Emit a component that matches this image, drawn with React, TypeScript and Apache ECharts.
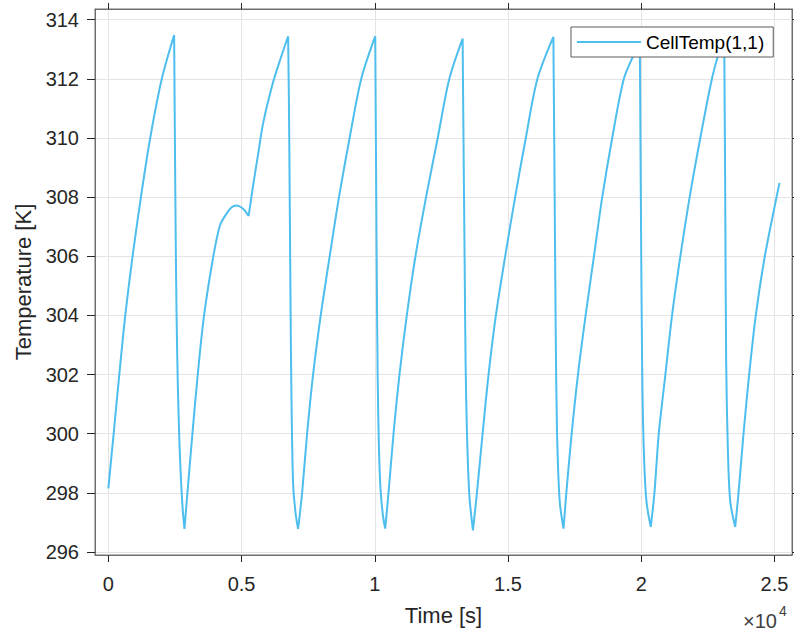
import React, { useEffect, useRef } from "react";
import * as echarts from "echarts";

// Time [s] and cell temperature [K]
const timeS: number[] = [
  0, 200, 412, 636, 911, 1223, 1572, 2008, 2470,
  2500, 2530, 2565, 2610, 2665, 2735, 2800, 2857,
  2969, 3156, 3356, 3593, 3942, 4192, 4442, 4629, 4816, 5065, 5265,
  5439, 5626, 5813, 6188, 6500, 6749,
  6786, 6836, 6874, 6936, 7030, 7123,
  7273, 7460, 7685, 7972, 8308, 8658, 9057, 9494, 10018,
  10055, 10092, 10130, 10205, 10304, 10392,
  10516, 10704, 10928, 11203, 11527, 11926, 12363, 12799, 13298,
  13330, 13373, 13410, 13460, 13548, 13685,
  13835, 14047, 14271, 14546, 14895, 15269, 15669, 16105, 16704,
  16741, 16791, 16841, 16941, 17085,
  17190, 17390, 17627, 17914, 18226, 18538, 18912, 19349, 19760, 19948,
  19985, 20035, 20097, 20197, 20359,
  20497, 20659, 20908, 21158, 21470, 21819, 22218, 22655, 22904, 23116,
  23153, 23190, 23253, 23341, 23528,
  23653, 23840, 24052, 24301, 24640, 25080, 25190,
];
const tempK: number[] = [
  298.15, 300.0, 302.0, 304.0, 306.0, 308.0, 310.0, 312.0, 313.48,
  309.8, 306.5, 303.8, 301.6, 299.8, 298.3, 297.35, 296.78,
  298.0, 300.0, 302.0, 304.0, 306.0, 307.05, 307.45, 307.66, 307.72, 307.6, 307.36,
  308.42, 309.47, 310.51, 311.9, 312.78, 313.44,
  310.5, 304.7, 301.2, 298.3, 297.3, 296.78,
  298.0, 300.0, 302.0, 304.0, 306.0, 308.0, 310.0, 312.0, 313.44,
  308.19, 303.53, 300.63, 298.3, 297.26, 296.79,
  298.0, 300.0, 302.0, 304.0, 306.0, 308.0, 310.0, 312.0, 313.36,
  310.0, 305.86, 302.37, 300.05, 297.95, 296.73,
  298.0, 300.0, 302.0, 304.0, 306.0, 308.0, 310.0, 312.0, 313.42,
  309.35, 303.53, 300.05, 297.72, 296.79,
  298.0, 300.0, 302.0, 304.0, 306.0, 308.0, 310.0, 312.0, 312.9, 313.4,
  308.19, 302.37, 299.47, 297.72, 296.85,
  298.0, 300.0, 302.0, 304.0, 306.0, 308.0, 310.0, 312.0, 312.85, 313.4,
  308.19, 302.37, 299.47, 297.72, 296.85,
  298.0, 300.0, 302.0, 304.0, 306.0, 308.0, 308.48,
];

const xTicks: number[] = [0, 5000, 10000, 15000, 20000, 25000];
const xTickLabels: string[] = ["0", "0.5", "1", "1.5", "2", "2.5"];
const yTicks: number[] = [296, 298, 300, 302, 304, 306, 308, 310, 312, 314];
const yTickLabels: string[] = ["296", "298", "300", "302", "304", "306", "308", "310", "312", "314"];

const seriesName = "CellTemp(1,1)";
const FONT = "'Liberation Sans', Arial, Helvetica, sans-serif";
const TXT = "#262626";
const AXIS = "#6e6e6e";
const GRID = "#e4e4e4";
const LINE = "#4DBEEE";

// Split the trace at its sharp corners (peaks / troughs) so that each
// stretch is smoothed on its own and the corners stay sharp.
function buildSegmentedData(): any[] {
  const n = timeS.length;
  const corner = (i: number) => {
    if (i <= 0 || i >= n - 1) return false;
    const s1 = (tempK[i] - tempK[i - 1]) / (timeS[i] - timeS[i - 1]);
    const s2 = (tempK[i + 1] - tempK[i]) / (timeS[i + 1] - timeS[i]);
    return s1 * s2 < 0 && (Math.abs(s1) > 0.002 || Math.abs(s2) > 0.002);
  };
  const out: any[] = [];
  for (let i = 0; i < n; i++) {
    out.push([timeS[i], tempK[i]]);
    if (corner(i)) {
      out.push("-");
      out.push([timeS[i], tempK[i]]);
    }
  }
  return out;
}

export default function App() {
  const ref = useRef<HTMLDivElement>(null);
  useEffect(() => {
    if (!ref.current) return;
    const chart = echarts.init(ref.current, null, { renderer: "svg" });
    const xLab = (v: number) => {
      const i = xTicks.indexOf(v);
      return i >= 0 ? xTickLabels[i] : "";
    };
    const yLab = (v: number) => {
      const i = yTicks.indexOf(v);
      return i >= 0 ? yTickLabels[i] : "";
    };
    const xMin = -500;
    const xMax = 25660;
    const yMin = 295.9;
    const yMax = 314.36;
    chart.setOption({
      animation: false,
      backgroundColor: "#ffffff",
      grid: {
        left: 95,
        top: 9,
        right: 2,
        bottom: 80,
        containLabel: false,
        outerBoundsMode: "none",
        show: true,
        borderColor: AXIS,
        borderWidth: 1,
        backgroundColor: "#ffffff",
      },
      legend: {
        show: true,
        left: 571,
        top: 27,
        orient: "vertical",
        padding: [5, 9, 5, 6],
        itemWidth: 64,
        itemHeight: 2,
        icon: "rect",
        backgroundColor: "#ffffff",
        borderColor: "#5a5a5a",
        borderWidth: 1,
        borderRadius: 0,
        textStyle: { fontFamily: FONT, fontSize: 19, color: "#000000", lineHeight: 20 },
        data: [{ name: seriesName, icon: "rect" }],
      },
      xAxis: [
        {
          type: "value",
          position: "bottom",
          min: xMin,
          max: xMax,
          axisLine: { show: true, onZero: false, lineStyle: { color: AXIS, width: 1 } },
          axisTick: { show: true, inside: false, length: 7, customValues: xTicks, lineStyle: { color: TXT } },
          axisLabel: {
            show: true,
            customValues: xTicks,
            formatter: xLab,
            margin: 19,
            fontSize: 20,
            fontFamily: FONT,
            color: TXT,
          },
          splitLine: { show: true, lineStyle: { color: GRID, width: 1 } },
          name: "Time [s]",
          nameLocation: "middle",
          nameGap: 49,
          nameTextStyle: { fontSize: 22, fontFamily: FONT, color: TXT },
        },
        {
          type: "value",
          position: "top",
          min: xMin,
          max: xMax,
          axisLine: { show: true, onZero: false, lineStyle: { color: AXIS, width: 1 } },
          axisTick: { show: true, inside: false, length: 6, customValues: xTicks, lineStyle: { color: TXT } },
          axisLabel: { show: false },
          splitLine: { show: false },
        },
      ],
      yAxis: [
        {
          type: "value",
          position: "left",
          min: yMin,
          max: yMax,
          axisLine: { show: true, onZero: false, lineStyle: { color: AXIS, width: 1 } },
          axisTick: { show: true, inside: false, length: 8, customValues: yTicks, lineStyle: { color: TXT } },
          axisLabel: {
            show: true,
            customValues: yTicks,
            formatter: yLab,
            margin: 16,
            fontSize: 20,
            fontFamily: FONT,
            color: TXT,
          },
          splitLine: { show: true, lineStyle: { color: GRID, width: 1 } },
          name: "Temperature [K]",
          nameLocation: "middle",
          nameGap: 61,
          nameTextStyle: { fontSize: 22, fontFamily: FONT, color: TXT },
        },
        {
          type: "value",
          position: "right",
          min: yMin,
          max: yMax,
          axisLine: { show: true, onZero: false, lineStyle: { color: AXIS, width: 1 } },
          axisTick: { show: true, inside: false, length: 6, customValues: yTicks, lineStyle: { color: TXT } },
          axisLabel: { show: false },
          splitLine: { show: false },
        },
      ],
      graphic: [
        {
          type: "text",
          left: 743,
          top: 611,
          silent: true,
          style: { text: "×10", fontSize: 20, fontFamily: FONT, fill: "#404040" },
        },
        {
          type: "text",
          left: 779,
          top: 604,
          silent: true,
          style: { text: "4", fontSize: 14, fontFamily: FONT, fill: "#404040" },
        },
      ],
      series: [
        {
          name: seriesName,
          type: "line",
          xAxisIndex: 0,
          yAxisIndex: 0,
          symbol: "none",
          showSymbol: false,
          connectNulls: false,
          smooth: 0.3,
          color: LINE,
          lineStyle: { color: LINE, width: 2 },
          data: buildSegmentedData(),
        },
      ],
    });
    return () => chart.dispose();
  }, []);
  return (
    <div
      ref={ref}
      style={{ position: "fixed", left: 0, top: 0, width: 794, height: 635, background: "#fff" }}
    />
  );
}
